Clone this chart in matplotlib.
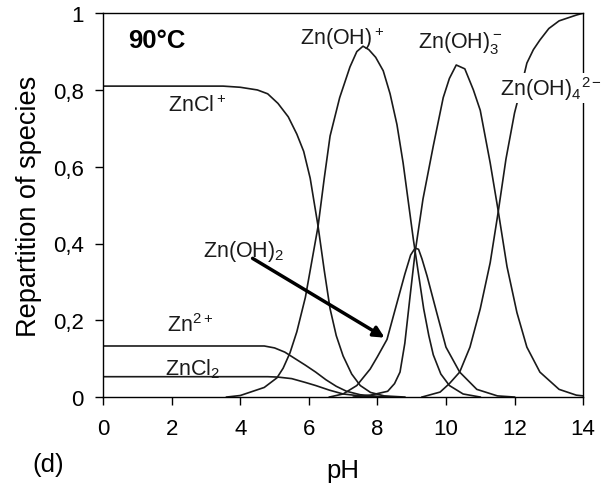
"""Zn speciation vs pH at 90 C (panel d)."""

import matplotlib
matplotlib.use("Agg")
import matplotlib.pyplot as plt
from matplotlib.ticker import FuncFormatter

plt.rcParams["font.family"] = ["Liberation Sans", "DejaVu Sans"]
plt.rcParams["mathtext.fontset"] = "custom"
plt.rcParams["mathtext.rm"] = "Liberation Sans"
plt.rcParams["mathtext.it"] = "Liberation Sans:italic"
plt.rcParams["mathtext.bf"] = "Liberation Sans:bold"

# species fractions (pH, fraction)
zncl_ph = [0, 3.5, 4.0, 4.5, 4.8, 5.1, 5.4, 5.65, 5.85, 6.04, 6.15, 6.27, 6.45, 6.62, 6.8, 7.0, 7.25, 7.5, 7.8, 8.2, 8.8]
zncl_f = [0.81, 0.81, 0.807, 0.80, 0.79, 0.765, 0.73, 0.685, 0.64, 0.57, 0.51, 0.445, 0.33, 0.23, 0.16, 0.107, 0.06, 0.03, 0.012, 0.003, 0]

znoh_ph = [3.6, 4.0, 4.3, 4.7, 5.07, 5.25, 5.45, 5.65, 5.9, 6.1, 6.27, 6.45, 6.62, 6.9, 7.2, 7.4, 7.58, 7.75, 7.95, 8.17, 8.37, 8.57, 8.75, 8.9, 9.05, 9.2, 9.35, 9.5, 9.63, 9.85, 10.1, 10.5, 11.0]
znoh_f = [0, 0.004, 0.013, 0.025, 0.05, 0.075, 0.115, 0.17, 0.26, 0.36, 0.445, 0.57, 0.68, 0.78, 0.86, 0.9, 0.914, 0.905, 0.885, 0.85, 0.79, 0.71, 0.61, 0.51, 0.41, 0.32, 0.23, 0.16, 0.11, 0.06, 0.03, 0.008, 0]

znoh2_ph = [6.6, 7.0, 7.4, 7.79, 8.0, 8.28, 8.57, 8.8, 8.97, 9.1, 9.2, 9.3, 9.45, 9.73, 10.0, 10.4, 10.9, 11.5, 12.0]
znoh2_f = [0, 0.008, 0.03, 0.073, 0.105, 0.15, 0.245, 0.32, 0.37, 0.388, 0.385, 0.36, 0.315, 0.22, 0.13, 0.065, 0.02, 0.003, 0]

znoh3_ph = [7.3, 7.8, 8.3, 8.5, 8.66, 8.8, 8.95, 9.1, 9.33, 9.63, 9.92, 10.1, 10.3, 10.55, 10.8, 11.0, 11.29, 11.52, 11.78, 12.07, 12.36, 12.74, 13.3, 13.8, 14.0]
znoh3_f = [0, 0.005, 0.015, 0.035, 0.065, 0.14, 0.26, 0.377, 0.516, 0.654, 0.78, 0.83, 0.865, 0.855, 0.80, 0.747, 0.61, 0.487, 0.34, 0.22, 0.13, 0.065, 0.02, 0.005, 0.003]

znoh4_ph = [9.3, 9.83, 10.1, 10.4, 10.7, 11.0, 11.29, 11.52, 11.75, 12.0, 12.2, 12.36, 12.55, 12.74, 13.0, 13.3, 13.8, 14.0]
znoh4_f = [0, 0.013, 0.035, 0.065, 0.13, 0.23, 0.35, 0.48, 0.62, 0.74, 0.81, 0.87, 0.905, 0.93, 0.96, 0.98, 0.995, 1.0]

zn2_ph = [0, 4.7, 5.0, 5.3, 5.6, 5.9, 6.2, 6.5, 6.8, 7.1, 7.5, 8.0, 8.5]
zn2_f = [0.133, 0.133, 0.128, 0.117, 0.10, 0.083, 0.065, 0.045, 0.028, 0.015, 0.006, 0.002, 0]

zncl2_ph = [0, 4.8, 5.1, 5.5, 5.9, 6.2, 6.6, 7.0, 7.5, 8.0]
zncl2_f = [0.053, 0.053, 0.052, 0.048, 0.038, 0.03, 0.018, 0.008, 0.003, 0]

series = [
    (zncl_ph, zncl_f), (znoh_ph, znoh_f), (znoh2_ph, znoh2_f),
    (znoh3_ph, znoh3_f), (znoh4_ph, znoh4_f), (zn2_ph, zn2_f), (zncl2_ph, zncl2_f),
]

fig = plt.figure(figsize=(6.03, 4.89), dpi=100)
ax = fig.add_axes([0.171, 0.186, 0.796, 0.785])

for ph, f in series:
    ax.plot(ph, f, color="#1a1a1a", lw=1.2, zorder=2)

ax.set_xlim(0, 14)
ax.set_ylim(0, 1)
ax.set_xticks(range(0, 15, 2))
ax.set_yticks([0, 0.2, 0.4, 0.6, 0.8, 1.0])
ax.yaxis.set_major_formatter(FuncFormatter(lambda v, p: ("%g" % round(v, 1)).replace(".", ",")))
ax.tick_params(direction="out", length=6, width=1, labelsize=16)
ax.tick_params(axis="x", pad=9)
ax.tick_params(axis="y", pad=8)
for s in ax.spines.values():
    s.set_linewidth(1.0)

ax.set_xlabel("pH", fontsize=18.5, labelpad=14)
ax.set_ylabel("Repartition of species", fontsize=19.5, labelpad=8)

lab = dict(fontsize=15.5, color="#1a1a1a", va="center")
ax.text(0.73, 0.93, "90°C", fontsize=18.5, fontweight="bold", va="center")
ax.text(1.9, 0.76, r"ZnCl$^+$", **lab)
ax.text(5.75, 0.935, r"Zn(OH)$^+$", **lab)
ax.text(9.19, 0.925, r"Zn(OH)$_3^-$", **lab)
ax.text(11.58, 0.805, r"Zn(OH)$_4$$^{2-}$", clip_on=False, zorder=5,
        bbox=dict(facecolor="white", edgecolor="none", pad=1), **lab)
ax.text(2.92, 0.383, r"Zn(OH)$_2$", **lab)
ax.text(1.87, 0.19, r"Zn$^{2+}$", **lab)
ax.text(1.8, 0.075, r"ZnCl$_2$", **lab)

ax.annotate("", xy=(8.28, 0.151), xytext=(4.29, 0.365),
            arrowprops=dict(arrowstyle="-|>", lw=2.5, color="black", mutation_scale=16))

fig.text(48 / 603, 1 - 465 / 489, "(d)", fontsize=18.5, ha="center", va="center")

fig.savefig("out.png", dpi=100)
